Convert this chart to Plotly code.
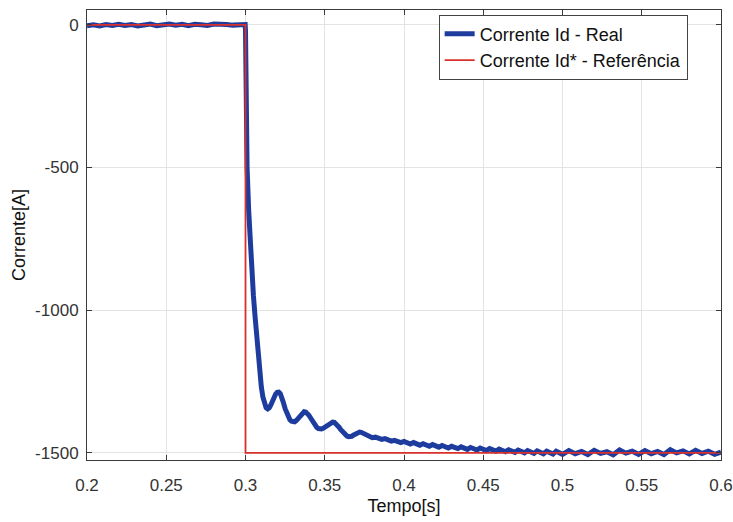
import plotly.graph_objects as go

# ---- data ----
t_real = [
    0.200, 0.204, 0.208, 0.212, 0.216, 0.220, 0.224, 0.228, 0.232, 0.236,
    0.240, 0.244, 0.248, 0.252, 0.256, 0.260, 0.264, 0.268, 0.272, 0.276,
    0.280, 0.284, 0.288, 0.292, 0.296, 0.2998,
    0.3000, 0.3005, 0.3010, 0.3020, 0.3030, 0.3040, 0.3050, 0.3060, 0.3070, 0.3080,
    0.3090, 0.3100, 0.3110, 0.3120, 0.3130, 0.3140, 0.3150, 0.3160, 0.3170, 0.3180,
    0.3190, 0.3200, 0.3210, 0.3220, 0.3230, 0.3240, 0.3250, 0.3260, 0.3270, 0.3280,
    0.3290, 0.3300, 0.3310, 0.3320, 0.3330, 0.3340, 0.3350, 0.3360, 0.3370, 0.3380,
    0.3390, 0.3400, 0.3410, 0.3420, 0.3430, 0.3440, 0.3450, 0.3460, 0.3470, 0.3480,
    0.3490, 0.3500, 0.3510, 0.3520, 0.3530, 0.3540, 0.3550, 0.3560, 0.3570, 0.3580,
    0.3590, 0.3600, 0.3610, 0.3620, 0.3630, 0.3640, 0.3650, 0.3660, 0.3670, 0.3680,
    0.3690, 0.3700, 0.3710, 0.3720, 0.3730, 0.3740, 0.3760, 0.3780, 0.3800, 0.3820,
    0.3840, 0.3860, 0.3880, 0.3900, 0.3920, 0.3940, 0.3960, 0.3980, 0.4000, 0.4020,
    0.4040, 0.4060, 0.4080, 0.4100, 0.4120, 0.4140, 0.4160, 0.4180, 0.4200, 0.4220,
    0.4240, 0.4260, 0.4280, 0.4300, 0.4320, 0.4340, 0.4360, 0.4380, 0.4400, 0.4420,
    0.4440, 0.4460, 0.4480, 0.4500, 0.4520, 0.4540, 0.4560, 0.4580, 0.4600, 0.4620,
    0.4640, 0.4660, 0.4680, 0.4700, 0.4720, 0.4740, 0.4760, 0.4780, 0.4800, 0.4820,
    0.4840, 0.4860, 0.4880, 0.4900, 0.4920, 0.4940, 0.4960, 0.4980, 0.5000,
    0.504, 0.508, 0.512, 0.516, 0.520, 0.524, 0.528, 0.532, 0.536, 0.540,
    0.544, 0.548, 0.552, 0.556, 0.560, 0.564, 0.568, 0.572, 0.576, 0.580,
    0.584, 0.588, 0.592, 0.596, 0.600,
]
id_real = [
    -3, 0, -4, 1, -2, 2, -2, 1, -4, 0,
    3, -3, 0, 3, -1, 2, -3, 2, 0, -2,
    3, 4, 1, -1, 2, 1,
    -20, -330, -500, -650, -770, -870, -950, -1020, -1090, -1160,
    -1220, -1270, -1305, -1328, -1342, -1346, -1342, -1332, -1318, -1304,
    -1294, -1288, -1287, -1293, -1306, -1325, -1345, -1362, -1375, -1384,
    -1389, -1392, -1391, -1387, -1380, -1372, -1364, -1359, -1356, -1357,
    -1361, -1368, -1377, -1387, -1397, -1405, -1411, -1415, -1417, -1416,
    -1414, -1411, -1406, -1401, -1397, -1394, -1392, -1393, -1397, -1403,
    -1410, -1418, -1425, -1432, -1437, -1441, -1443, -1444, -1442, -1438,
    -1434, -1430, -1428, -1427, -1428, -1431, -1438, -1444, -1447, -1445,
    -1449, -1453, -1450, -1455, -1459, -1456, -1461, -1464, -1460, -1466,
    -1469, -1464, -1470, -1473, -1468, -1474, -1477, -1471, -1476, -1480,
    -1474, -1479, -1483, -1477, -1482, -1485, -1479, -1484, -1488, -1481,
    -1486, -1490, -1483, -1488, -1492, -1485, -1490, -1494, -1487, -1492,
    -1496, -1489, -1494, -1498, -1490, -1495, -1500, -1492, -1497, -1502,
    -1493, -1498, -1503, -1494, -1499, -1504, -1494, -1500, -1505,
    -1492, -1503, -1495, -1506, -1491, -1502, -1496, -1507, -1490, -1501,
    -1494, -1505, -1492, -1503, -1495, -1506, -1489, -1500, -1493, -1504,
    -1491, -1502, -1494, -1505, -1497,
]

t_ref = [0.2, 0.3, 0.3, 0.6]
id_ref = [0, 0, -1500, -1500]

x_ticks = [0.2, 0.25, 0.3, 0.35, 0.4, 0.45, 0.5, 0.55, 0.6]
x_labels = ["0.2", "0.25", "0.3", "0.35", "0.4", "0.45", "0.5", "0.55", "0.6"]
y_ticks = [0, -500, -1000, -1500]
y_labels = ["0", "-500", "-1000", "-1500"]

FONT = "Liberation Sans, Arial, sans-serif"

fig = go.Figure()
fig.add_trace(go.Scatter(
    x=t_real, y=id_real, mode="lines", name="Corrente Id - Real",
    line=dict(color="#1e3c9e", width=5),
))
fig.add_trace(go.Scatter(
    x=t_ref, y=id_ref, mode="lines", name="Corrente Id* - Referência",
    line=dict(color="#d8302c", width=1.8),
))

axis_common = dict(
    showline=True, linecolor="#3a3a3a", linewidth=1, mirror="ticks",
    ticks="inside", ticklen=5, tickcolor="#3a3a3a",
    showgrid=True, gridcolor="#e3e3e3", gridwidth=1, zeroline=False,
    tickfont=dict(family=FONT, size=17, color="#333333"),
    automargin=False,
)

fig.update_layout(
    width=733, height=522,
    margin=dict(l=87, r=12, t=10, b=62),
    paper_bgcolor="white", plot_bgcolor="white",
    font=dict(family=FONT, color="#222222"),
    xaxis=dict(
        range=[0.2, 0.6], tickvals=x_ticks, ticktext=x_labels,
        ticklabelstandoff=10,
        title=dict(text="Tempo[s]", font=dict(family=FONT, size=18, color="#111111"), standoff=4),
        **axis_common,
    ),
    yaxis=dict(
        range=[-1525, 52], tickvals=y_ticks, ticktext=y_labels,
        ticklabelstandoff=4,
        title=dict(text="Corrente[A]", font=dict(family=FONT, size=18, color="#111111"), standoff=4),
        **axis_common,
    ),
    legend=dict(
        x=0.751, y=0.99, xanchor="center", yanchor="top",
        bgcolor="white", bordercolor="#444444", borderwidth=1,
        font=dict(family=FONT, size=18, color="#111111"),
        itemwidth=30, tracegroupgap=0,
    ),
    showlegend=True,
)

fig.write_html(
    "out.html",
    config={"displayModeBar": False},
    post_script="document.body.style.margin='0px';",
)
